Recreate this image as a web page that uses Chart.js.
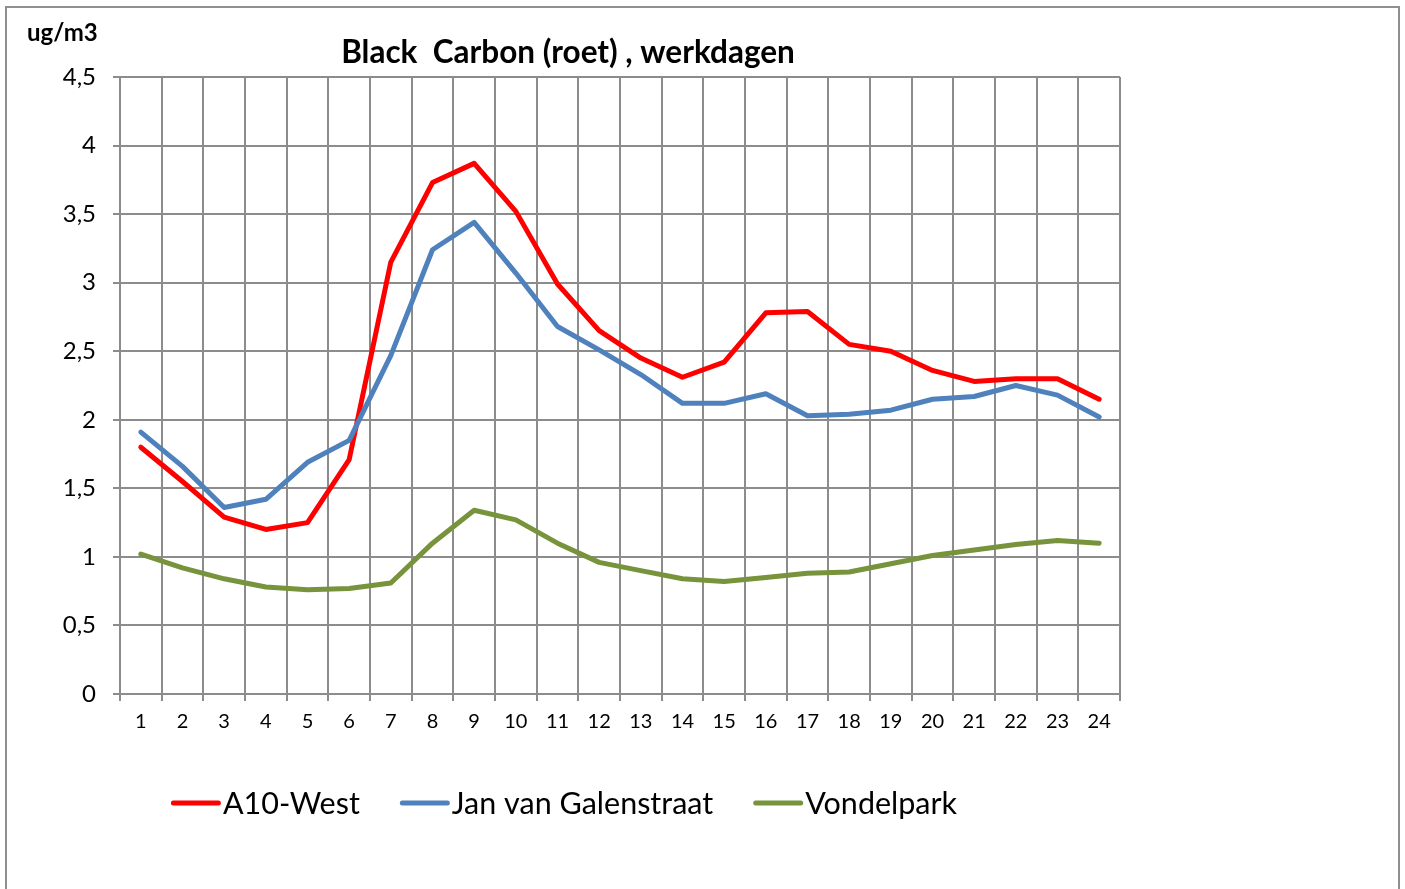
<!DOCTYPE html>
<html>
<head>
<meta charset="utf-8">
<script src="https://cdn.jsdelivr.net/npm/chart.js@4.4.1/dist/chart.umd.min.js"></script>
<style>
  html, body { margin: 0; padding: 0; background: #fff; }
  body { width: 1405px; height: 889px; overflow: hidden; position: relative; }
  #wrap { position: absolute; left: 0; top: 0; width: 1405px; height: 889px; }
  #frame { position: absolute; left: 5px; top: 6px; width: 1395px; height: 900px;
           border: 2px solid #8f8f8f; box-sizing: border-box; pointer-events: none; }
</style>
</head>
<body>
<div id="wrap"><canvas id="c" width="1405" height="889"></canvas></div>
<div id="frame"></div>
<script>
// Hourly averages of black carbon on working days (ug/m3)
const hours = ['1','2','3','4','5','6','7','8','9','10','11','12',
               '13','14','15','16','17','18','19','20','21','22','23','24'];
const a10West = [1.80, 1.55, 1.29, 1.20, 1.25, 1.71, 3.15, 3.73, 3.87, 3.52, 2.99, 2.65,
                 2.45, 2.31, 2.42, 2.78, 2.79, 2.55, 2.50, 2.36, 2.28, 2.30, 2.30, 2.15];
const janVanGalenstraat = [1.91, 1.66, 1.36, 1.42, 1.69, 1.85, 2.47, 3.24, 3.44, 3.07, 2.68, 2.51,
                           2.33, 2.12, 2.12, 2.19, 2.03, 2.04, 2.07, 2.15, 2.17, 2.25, 2.18, 2.02];
const vondelpark = [1.02, 0.92, 0.84, 0.78, 0.76, 0.77, 0.81, 1.10, 1.34, 1.27, 1.10, 0.96,
                    0.90, 0.84, 0.82, 0.85, 0.88, 0.89, 0.95, 1.01, 1.05, 1.09, 1.12, 1.10];
const yTickLabels = ['0', '0,5', '1', '1,5', '2', '2,5', '3', '3,5', '4', '4,5'];
const chartTitle = 'Black  Carbon (roet) , werkdagen';
const unitLabel = 'ug/m3';

const gridColor = '#8c8c8c';
const fontFamily = 'Lato, "Open Sans", sans-serif';

// Title, unit label and a line-style legend drawn on the chart canvas
const decorations = {
  id: 'decorations',
  afterDraw(chart) {
    const ctx = chart.ctx;
    ctx.save();
    ctx.fillStyle = '#000';
    ctx.textBaseline = 'middle';

    ctx.font = 'bold 24px ' + fontFamily;
    ctx.textAlign = 'left';
    ctx.fillText(unitLabel, 27, 33);

    ctx.font = 'bold 31.5px ' + fontFamily;
    ctx.textAlign = 'center';
    ctx.fillText(chartTitle, 568, 53);

    ctx.font = '30.5px ' + fontFamily;
    const lineLen = 50, gap = 2, spacing = 40, y = 803;
    const items = chart.data.datasets.map(ds => ({
      ds, w: lineLen + gap + ctx.measureText(ds.label).width
    }));
    const total = items.reduce((s, it) => s + it.w, 0) + spacing * (items.length - 1);
    let x = 564 - total / 2;
    ctx.textAlign = 'left';
    items.forEach(it => {
      ctx.strokeStyle = it.ds.borderColor;
      ctx.lineWidth = 5;
      ctx.lineCap = 'round';
      ctx.beginPath();
      ctx.moveTo(x + 2.5, y);
      ctx.lineTo(x + lineLen - 2.5, y);
      ctx.stroke();
      ctx.fillText(it.ds.label, x + lineLen + gap, y + 1);
      x += it.w + spacing;
    });
    ctx.restore();
  }
};

const lineStyle = {
  borderWidth: 5,
  pointRadius: 0,
  pointHoverRadius: 0,
  tension: 0,
  fill: false,
  borderJoinStyle: 'round',
  borderCapStyle: 'round'
};

new Chart(document.getElementById('c'), {
  type: 'line',
  data: {
    labels: hours,
    datasets: [
      { label: 'A10-West', data: a10West, borderColor: '#ff0000', backgroundColor: '#ff0000', order: 3, ...lineStyle },
      { label: 'Jan van Galenstraat', data: janVanGalenstraat, borderColor: '#4f81bd', backgroundColor: '#4f81bd', order: 2, ...lineStyle },
      { label: 'Vondelpark', data: vondelpark, borderColor: '#77933c', backgroundColor: '#77933c', order: 1, ...lineStyle }
    ]
  },
  options: {
    responsive: false,
    animation: false,
    devicePixelRatio: 1,
    layout: { padding: { left: 0, right: 285, top: 77, bottom: 155 } },
    plugins: {
      legend: { display: false },
      title: { display: false },
      tooltip: { enabled: false }
    },
    scales: {
      x: {
        offset: true,
        grid: { offset: true, color: gridColor, lineWidth: 2, tickLength: 7, drawTicks: true },
        border: { color: gridColor, width: 2 },
        ticks: { color: '#000', font: { family: fontFamily, size: 20 }, padding: 9,
                 maxRotation: 0, autoSkip: false },
        afterFit(scale) { scale.height = 40; }
      },
      y: {
        min: 0,
        max: 4.5,
        grid: { color: gridColor, lineWidth: 2, tickLength: 7 },
        border: { color: gridColor, width: 2 },
        ticks: {
          stepSize: 0.5,
          color: '#000',
          font: { family: fontFamily, size: 24 },
          padding: 17,
          callback: (v) => yTickLabels[Math.round(v / 0.5)]
        },
        afterFit(scale) { scale.width = 120; }
      }
    }
  },
  plugins: [decorations]
});
</script>
</body>
</html>
